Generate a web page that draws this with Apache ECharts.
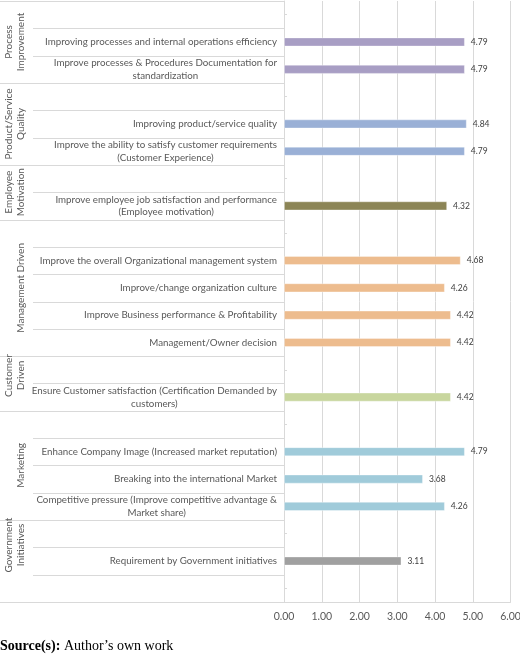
<!DOCTYPE html>
<html>
<head>
<meta charset="utf-8">
<script src="https://cdn.jsdelivr.net/npm/echarts@6/dist/echarts.min.js"></script>
<style>
html,body{margin:0;padding:0;background:#fff;overflow:hidden;}
#c{width:520px;height:655px;}
</style>
</head>
<body>
<div id="c"></div>
<script>
// ---- data ----
const groupNames = ['Process\nImprovement', 'Product/Service\nQuality', 'Employee\nMotivation', 'Management Driven', 'Customer\nDriven', 'Marketing', 'Government\nInitiatives'];
const categories = [
  '',
  'Improving processes and internal operations efficiency',
  'Improve processes & Procedures Documentation for\nstandardization',
  '',
  'Improving product/service quality',
  'Improve the ability to satisfy customer requirements\n(Customer Experience)',
  '',
  'Improve employee job satisfaction and performance\n(Employee motivation)',
  '',
  'Improve the overall Organizational management system',
  'Improve/change organization culture',
  'Improve Business performance & Profitability',
  'Management/Owner decision',
  '',
  'Ensure Customer satisfaction (Certification Demanded by\ncustomers)',
  '',
  'Enhance Company Image (Increased market reputation)',
  'Breaking into the international Market',
  'Competitive pressure (Improve competitive advantage &\nMarket share)',
  '',
  'Requirement by Government initiatives',
  ''
];
const groupOfRow = [0,0,0,1,1,1,2,2,3,3,3,3,3,4,4,5,5,5,5,6,6,6];
const values = [null,4.79,4.79,null,4.84,4.79,null,4.32,null,4.68,4.26,4.42,4.42,null,4.42,null,4.79,3.68,4.26,null,3.11,null];
const xTicks = [0,1,2,3,4,5,6];

// ---- styles ----
const groupColors = ['#A89EC4', '#9AB0D6', '#8C8556', '#EDBC8E', '#C8D69E', '#A0CBDA', '#A0A0A0'];
const groupLabelShift = [0, 0, 0, 0, -8, 0, -16];
const lineColor = '#d9d9d9';
const textColor = '#595959';
const innerLeft = 33;

// group spans derived from row membership
const groupSpans = groupNames.map((n, g) => {
  const s = groupOfRow.indexOf(g);
  const e = groupOfRow.lastIndexOf(g);
  return [0, s, e, g];
});

const chart = echarts.init(document.getElementById('c'), null, {renderer: 'canvas'});

const option = {
  animation: false,
  grid: {left: 284, right: 9.5, top: 1, bottom: 53, containLabel: false, outerBoundsMode: 'none'},
  xAxis: {
    type: 'value', min: xTicks[0], max: xTicks[xTicks.length - 1], interval: 1,
    axisLabel: {formatter: v => v.toFixed(2), color: textColor, fontSize: 10.5, fontFamily: 'Lato', margin: 9},
    splitLine: {show: true, lineStyle: {color: lineColor, width: 1}},
    axisLine: {show: true, lineStyle: {color: lineColor}},
    axisTick: {show: false}
  },
  yAxis: {
    type: 'category', inverse: true, data: categories,
    axisLine: {show: true, lineStyle: {color: lineColor}},
    axisTick: {show: true, inside: true, alignWithLabel: true, length: 3, lineStyle: {color: lineColor}},
    axisLabel: {
      interval: 0, margin: 7,
      formatter: v => v === '' ? '' : v.split('\n').map(s => '{c|' + s + '}').join('\n'),
      rich: {c: {align: 'center', color: textColor, fontSize: 9.75, fontFamily: 'Lato', lineHeight: 12.5}}
    }
  },
  series: [
    {
      type: 'bar', data: values, barWidth: 9,
      itemStyle: {
        color: p => groupColors[groupOfRow[p.dataIndex]],
        borderColor: 'rgba(255,255,255,0.45)', borderWidth: 0.8
      },
      label: {
        show: true, position: 'right', distance: 6,
        formatter: p => (p.value == null ? '' : Number(p.value).toFixed(2)),
        fontSize: 8.5, color: '#404040', fontFamily: 'Lato'
      },
      silent: true
    },
    {
      type: 'custom', coordinateSystem: 'cartesian2d', clip: false, silent: true,
      data: groupSpans, encode: {x: 0, y: 1},
      renderItem: (params, api) => {
        const s = api.value(1), e = api.value(2), gi = api.value(3);
        const c = api.coord([0, s]);
        const bh = api.size([0, 1])[1];
        const top = c[1] - bh / 2;
        const bottom = top + (e - s + 1) * bh;
        const gx = params.coordSys.x;
        const ls = {stroke: lineColor, lineWidth: 1};
        const px = y => Math.round(y) + 0.5;
        const children = [
          {type: 'line', shape: {x1: 0, y1: px(top), x2: gx, y2: px(top)}, style: ls},
          {type: 'line', shape: {x1: 0, y1: px(bottom), x2: gx, y2: px(bottom)}, style: ls}
        ];
        for (let r = 1; r <= e - s; r++) {
          const y = px(top + r * bh);
          children.push({type: 'line', shape: {x1: innerLeft, y1: y, x2: gx, y2: y}, style: ls});
        }
        children.push({
          type: 'text', x: 27, y: (top + bottom) / 2 + groupLabelShift[gi], rotation: Math.PI / 2,
          style: {text: groupNames[gi], align: 'center', verticalAlign: 'bottom', fill: textColor, font: '10px Lato', lineHeight: 12}
        });
        return {type: 'group', children};
      }
    }
  ],
  graphic: [
    {
      type: 'text', left: 0, top: 639,
      style: {
        text: '{b|Source(s):} Author\u2019s own work',
        font: '14px "Liberation Serif"', fill: '#000',
        rich: {b: {fontFamily: 'Liberation Serif', fontSize: 14, fontWeight: 'bold', fill: '#000'}}
      }
    }
  ]
};
chart.setOption(option);
</script>
</body>
</html>
